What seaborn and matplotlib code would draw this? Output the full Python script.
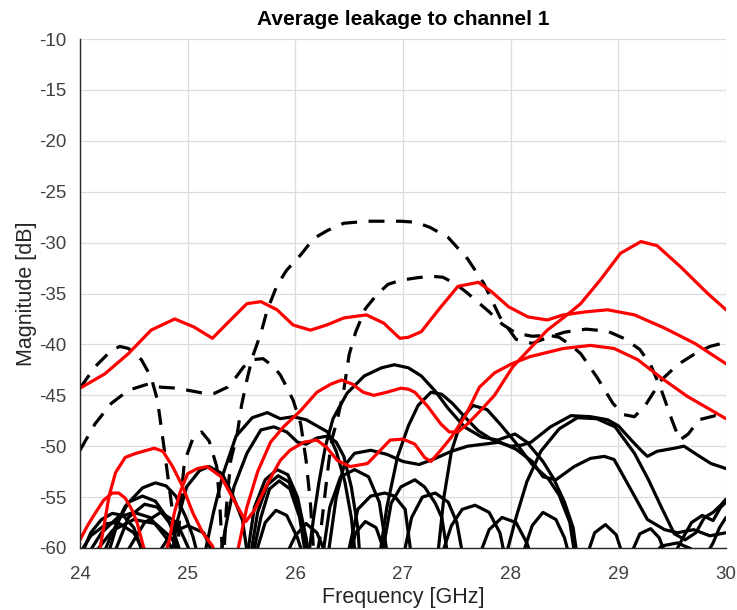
import matplotlib
matplotlib.use("Agg")
import matplotlib.pyplot as plt
import seaborn as sns
import pandas as pd

# ---------------- data: (frequency GHz, magnitude dB) ----------------
TITLE = "Average leakage to channel 1"
X_LABEL = "Frequency [GHz]"
Y_LABEL = "Magnitude [dB]"
X_TICKS = [24, 25, 26, 27, 28, 29, 30]
Y_TICKS = [-60, -55, -50, -45, -40, -35, -30, -25, -20, -15, -10]

# red solid curves
RED_1 = [(24.0,-44.3),(24.23,-42.9),(24.45,-40.9),(24.66,-38.6),(24.88,-37.5),(25.06,-38.3),(25.23,-39.4),
         (25.37,-37.9),(25.55,-36.0),(25.68,-35.8),(25.83,-36.6),(25.98,-38.1),(26.14,-38.6),(26.29,-38.1),
         (26.45,-37.4),(26.66,-37.1),(26.82,-37.9),(26.97,-39.4),(27.05,-39.3),(27.17,-38.75),(27.33,-36.6),
         (27.51,-34.3),(27.7,-33.9),(27.82,-34.8),(27.98,-36.3),(28.16,-37.3),(28.34,-37.6),(28.49,-37.1),
         (28.7,-36.8),(28.9,-36.6),(29.15,-37.1),(29.43,-38.4),(29.71,-39.9),(30.0,-41.9)]
RED_2 = [(25.45,-61),(25.55,-56),(25.65,-52.5),(25.77,-49.6),(25.89,-48.1),(26.05,-46.5),(26.2,-44.7),
         (26.33,-43.9),(26.43,-43.5),(26.53,-43.9),(26.63,-44.7),(26.73,-45.0),(26.85,-44.7),(26.98,-44.3),
         (27.05,-44.4),(27.11,-44.7),(27.23,-46.1),(27.35,-47.8),(27.43,-48.6),(27.51,-48.6),(27.6,-47.8),
         (27.72,-46.5),(27.85,-45.0),(28.02,-42.2),(28.18,-40.4),(28.34,-38.6),(28.5,-37.3),(28.65,-36.0),
         (28.83,-33.7),(29.02,-31.05),(29.21,-29.9),(29.36,-30.3),(29.58,-32.4),(29.83,-35.0),(30.0,-36.6)]
RED_3 = [(24.78,-61),(24.83,-59.2),(24.875,-56.6),(24.93,-54.5),(25.0,-52.7),(25.09,-52.2),(25.18,-52.0),
         (25.31,-53.0),(25.43,-55.3),(25.54,-57.4),(25.62,-56.3),(25.74,-53.7),(25.86,-51.4),(25.95,-50.4),
         (26.08,-49.6),(26.2,-49.4),(26.29,-50.1),(26.39,-51.4),(26.51,-52.0),(26.67,-51.7),(26.79,-50.4),
         (26.88,-49.4),(27.0,-49.3),(27.11,-49.8),(27.2,-51.1),(27.26,-51.5),(27.35,-50.4),(27.45,-49.1),
         (27.58,-47.0),(27.71,-44.2),(27.85,-42.8),(28.01,-41.9),(28.18,-41.2),(28.49,-40.4),(28.74,-40.1),
         (28.96,-40.4),(29.18,-41.5),(29.4,-43.3),(29.64,-45.1),(30.0,-47.3)]
RED_4 = [(24.0,-59.2),(24.07,-57.8),(24.14,-56.6),(24.22,-55.3),(24.3,-54.6),(24.36,-54.6),(24.42,-55.1),
         (24.48,-56.2),(24.53,-57.5),(24.58,-59.5),(24.62,-61)]
RED_5 = [(24.17,-61),(24.22,-58),(24.27,-54.9),(24.33,-52.6),(24.42,-51.1),(24.52,-50.7),(24.62,-50.4),
         (24.69,-50.2),(24.77,-50.5),(24.86,-52.0),(24.95,-53.9),(25.05,-56.6),(25.14,-58.5),(25.23,-59.8),
         (25.27,-61)]

# black dashed curves
DASH_1 = [(24.0,-44.3),(24.14,-42.2),(24.29,-40.6),(24.37,-40.2),(24.45,-40.4),(24.57,-41.5),(24.66,-43.2),
          (24.72,-45.5),(24.78,-50.1),(24.82,-53.3),(24.86,-56.5),(24.9,-62),(24.93,-56),(24.97,-51.5),
          (25.05,-49.2),(25.13,-48.6),(25.2,-49.5),(25.27,-52),(25.3,-56),(25.33,-62),(25.36,-56),
          (25.4,-51.4),(25.46,-48.8),(25.5,-46),(25.55,-43.5),(25.6,-41.3),(25.68,-38.9),(25.74,-36.6),
          (25.83,-34.2),(25.92,-32.7),(26.05,-31.2),(26.17,-29.6),(26.3,-28.8),(26.45,-28.1),(26.67,-27.9),
          (26.98,-27.9),(27.12,-28.0),(27.25,-28.5),(27.42,-29.5),(27.6,-31.6),(27.75,-34.0),(27.9,-37.3),
          (28.05,-39.5),(28.2,-39.9),(28.35,-39.3),(28.5,-38.8),(28.7,-38.5),(28.9,-38.7),(29.05,-39.4),
          (29.2,-40.5),(29.3,-42.0),(29.4,-44.5),(29.5,-47.5),(29.57,-49.4),(29.65,-48.8),(29.75,-47.4),
          (29.9,-47.0),(30.0,-47.1)]
DASH_2 = [(24.0,-50.4),(24.14,-47.8),(24.29,-45.8),(24.45,-44.5),(24.63,-43.9),(24.75,-44.2),(24.9,-44.3),
          (25.0,-44.5),(25.15,-44.8),(25.25,-44.8),(25.37,-44.2),(25.45,-43.2),(25.52,-42.2),(25.6,-41.5),
          (25.7,-41.4),(25.8,-42.2),(25.86,-43.0),(25.92,-44.2),(25.98,-45.5),(26.05,-47.8),(26.1,-51.4),
          (26.14,-55.6),(26.18,-62),(26.23,-58.9),(26.28,-54.3),(26.31,-51.6),(26.34,-49.3),(26.39,-47.4),
          (26.45,-44.5),(26.5,-41.0),(26.56,-38.8),(26.65,-36.5),(26.75,-35.2),(26.86,-34.1),(26.98,-33.7),
          (27.1,-33.5),(27.25,-33.3),(27.37,-33.4),(27.48,-34.0),(27.58,-34.8),(27.68,-35.7),(27.8,-36.8),
          (27.92,-38.0),(28.05,-38.9),(28.2,-39.2),(28.35,-39.1),(28.45,-39.3),(28.55,-40.0),(28.65,-40.9),
          (28.8,-43.2),(28.95,-45.8),(29.05,-46.9),(29.15,-47.1),(29.25,-46.0),(29.4,-43.5),(29.55,-42.0),
          (29.7,-41.0),(29.85,-40.2),(30.0,-39.8)]

# black solid curves
BLK_L1 = [(24.0,-61),(24.1,-58.5),(24.2,-57.2),(24.3,-56.6),(24.4,-56.8),(24.5,-58),(24.6,-61)]
BLK_L2 = [(24.0,-60.5),(24.1,-58.8),(24.25,-57.6),(24.35,-57.5),(24.5,-58.5),(24.6,-60.5)]
BLK_L3 = [(24.05,-61),(24.2,-58.5),(24.35,-57),(24.5,-56.5),(24.65,-57),(24.8,-59),(24.9,-61)]
BLK_L4 = [(24.25,-61),(24.35,-57.5),(24.45,-55.5),(24.58,-54.9),(24.7,-55.4),(24.82,-57.2),(24.9,-59.5),(24.95,-61)]
BLK_L5 = [(24.2,-61),(24.3,-58.5),(24.42,-55.9),(24.58,-54.1),(24.7,-53.6),(24.8,-53.9),(24.89,-54.9),
          (24.98,-56.9),(25.05,-58.9),(25.1,-61)]
BLK_L6 = [(24.3,-61),(24.45,-57),(24.6,-55.7),(24.72,-56),(24.85,-57.8),(24.95,-61)]
BLK_L7 = [(24.1,-61),(24.3,-58.3),(24.5,-57.2),(24.7,-57.6),(24.85,-59),(24.95,-61)]
BLK_L8 = [(24.4,-61),(24.6,-57.5),(24.75,-56.5),(24.9,-57.5),(25.05,-61)]
BLK_L9 = [(24.7,-61),(24.85,-58.5),(25.0,-57.8),(25.15,-58.5),(25.25,-61)]
BLK_K5 = [(24.85,-61),(24.9,-57.5),(24.99,-54.0),(25.11,-52.4),(25.2,-52.0),(25.32,-52.7),(25.41,-54.6),
          (25.51,-57.3),(25.56,-61)]
BLK_A1 = [(25.15,-61),(25.24,-56.5),(25.33,-52.7),(25.45,-49.0),(25.6,-47.2),(25.74,-46.7),(25.86,-47.3),
          (25.98,-47.1),(26.1,-47.4),(26.2,-48.0),(26.3,-48.6),(26.38,-50.5),(26.46,-53.5),(26.52,-57),(26.56,-61)]
BLK_A2 = [(25.3,-61),(25.37,-57),(25.43,-54),(25.55,-50.7),(25.68,-48.4),(25.8,-48.1),(25.92,-48.6),
          (26.02,-49.6),(26.1,-49.8),(26.2,-49.2),(26.3,-49.0),(26.38,-49.6),(26.45,-51),(26.52,-54),
          (26.58,-58),(26.6,-61)]
BLK_C1 = [(25.55,-61),(25.62,-56),(25.72,-53.3),(25.83,-52.3),(25.93,-52.8),(26.02,-55),(26.1,-59),(26.13,-61)]
BLK_C2 = [(25.58,-61),(25.65,-56.5),(25.74,-53.8),(25.84,-52.9),(25.94,-53.5),(26.03,-56),(26.1,-60),(26.12,-61)]
BLK_C3 = [(25.6,-61),(25.68,-57),(25.76,-54.2),(25.85,-53.4),(25.95,-54.2),(26.04,-57),(26.1,-61)]
BLK_C4 = [(25.62,-61),(25.72,-57.5),(25.82,-56.3),(25.92,-56.8),(26.02,-59),(26.08,-61)]
BLK_M1 = [(25.9,-61),(26.0,-58.8),(26.1,-57.6),(26.2,-58.5),(26.3,-61)]
BLK_TA = [(26.12,-61),(26.17,-57),(26.22,-53.5),(26.28,-50),(26.35,-47.3),(26.48,-44.8),(26.64,-43.1),
          (26.8,-42.3),(26.92,-42.0),(27.05,-42.3),(27.17,-43.1),(27.3,-44.6),(27.42,-46.3),(27.57,-48.1),
          (27.73,-49.1),(27.88,-49.4),(28.04,-48.8),(28.15,-49.6),(28.3,-51.5),(28.4,-53.2),(28.5,-55.5),
          (28.58,-58),(28.62,-61)]
BLK_TB = [(27.32,-61),(27.38,-55),(27.45,-50.5),(27.55,-47.2),(27.65,-46.0),(27.78,-46.4),(27.9,-47.8),
          (28.05,-49.7),(28.2,-51.8),(28.35,-53.2),(28.45,-54.8),(28.55,-57.5),(28.6,-61)]
BLK_TC = [(26.78,-61),(26.85,-56),(26.95,-51),(27.05,-48),(27.14,-46.0),(27.26,-44.7),(27.36,-44.9),
          (27.46,-45.8),(27.58,-47.2),(27.7,-48.5),(27.85,-49.5),(28.0,-50.0),(28.1,-49.9),(28.19,-49.6),
          (28.37,-48.1),(28.56,-47.0),(28.74,-47.1),(28.9,-47.4),(29.0,-48.0),(29.12,-49.4),(29.21,-50.4),
          (29.27,-51.0),(29.36,-50.5),(29.52,-50.2),(29.61,-50.0),(29.74,-50.9),(29.86,-51.7),(30.0,-52.2)]
BLK_TE = [(27.95,-61),(28.05,-57),(28.15,-53.5),(28.28,-50.5),(28.45,-48.3),(28.62,-47.2),(28.8,-47.3),
          (28.97,-48.1),(29.15,-50.7),(29.28,-53.3),(29.4,-56.0),(29.52,-58.6),(29.62,-59.2),(29.72,-58.5),
          (29.8,-57),(29.88,-56.5),(29.95,-55.8),(30.0,-55.2)]
BLK_TG = [(26.3,-61),(26.38,-55),(26.45,-52),(26.55,-50.7),(26.7,-50.4),(26.85,-50.8),(27.0,-51.5),
          (27.15,-51.8),(27.3,-51.2),(27.45,-50.5),(27.6,-50.0),(27.75,-49.8),(27.9,-49.6),(28.05,-50.3),
          (28.2,-51.5),(28.3,-53),(28.42,-53.3),(28.59,-52.0),(28.74,-51.2),(28.87,-51.0),(28.96,-51.3),
          (29.05,-53),(29.15,-54.9),(29.27,-57.2),(29.43,-58.2),(29.55,-58.5),(29.7,-58.2),(29.85,-58.8),(30.0,-58.5)]
BLK_U1 = [(27.0,-61),(27.08,-57),(27.18,-55),(27.3,-54.6),(27.42,-55.5),(27.5,-57.5),(27.56,-61)]
BLK_U2 = [(27.35,-61),(27.45,-57.8),(27.55,-56.2),(27.67,-55.8),(27.8,-56.5),(27.9,-58.5),(27.95,-61)]
BLK_U3 = [(27.7,-61),(27.8,-58.2),(27.92,-57),(28.05,-57.5),(28.15,-59.5),(28.2,-61)]
BLK_U4 = [(28.1,-61),(28.2,-57.8),(28.3,-56.5),(28.42,-57.2),(28.5,-59),(28.55,-61)]
BLK_U5 = [(28.7,-61),(28.78,-58.5),(28.88,-57.7),(28.98,-58.7),(29.05,-61)]
BLK_U6 = [(29.1,-61),(29.2,-58.6),(29.3,-58.1),(29.38,-59),(29.45,-61)]
BLK_U7 = [(29.5,-61),(29.6,-59),(29.68,-57.5),(29.78,-56.8),(29.88,-57.3),(29.95,-56),(30.0,-55.5)]
BLK_U8 = [(29.8,-61),(29.88,-59.5),(29.94,-58),(30.0,-57)]
BLK_U9 = [(29.3,-61),(29.4,-59.8),(29.55,-59.5),(29.7,-60.2),(29.8,-61)]
BLK_U10 = [(26.8,-61),(26.89,-55.6),(26.98,-54),(27.11,-53.3),(27.2,-54),(27.3,-55.6),(27.36,-57),(27.42,-61)]
BLK_U11 = [(26.48,-61),(26.58,-56.2),(26.7,-54.9),(26.83,-54.6),(26.92,-54.9),(27.02,-56.2),(27.08,-61)]
BLK_B1 = [(26.25,-61),(26.32,-56),(26.42,-53),(26.55,-52.3),(26.68,-53),(26.78,-55.5),(26.86,-61)]
BLK_B3 = [(26.5,-61),(26.56,-58.5),(26.65,-57.4),(26.75,-58),(26.85,-61)]

# ---------------- styling ----------------
sns.set_style("white")
plt.rcParams["font.family"] = ["Liberation Sans", "DejaVu Sans"]
plt.rcParams["axes.unicode_minus"] = False
plt.rcParams["lines.dashed_pattern"] = [5.0, 3.6]
plt.rcParams["lines.solid_capstyle"] = "round"
plt.rcParams["lines.solid_joinstyle"] = "round"
plt.rcParams["lines.dash_capstyle"] = "butt"

GRAY = "#262626"
TICK_GRAY = "#404040"
LW = 2.3

fig = plt.figure(figsize=(7.37, 6.10), dpi=100)
ax = fig.add_axes([80 / 737, 1 - 548 / 610, 646 / 737, 509 / 610])

def draw(curve, color, ls="-", z=2):
    df = pd.DataFrame(curve, columns=["f", "db"])
    sns.lineplot(data=df, x="f", y="db", ax=ax, color=color, linewidth=LW,
                 linestyle=ls, sort=False, estimator=None, legend=False, zorder=z)

black_curves = [BLK_L1, BLK_L2, BLK_L3, BLK_L4, BLK_L5, BLK_L6, BLK_L7, BLK_L8, BLK_L9, BLK_K5,
                BLK_A1, BLK_A2, BLK_C1, BLK_C2, BLK_C3, BLK_C4, BLK_M1, BLK_TA, BLK_TB, BLK_TC,
                BLK_TE, BLK_TG, BLK_U1, BLK_U2, BLK_U3, BLK_U4, BLK_U5, BLK_U6, BLK_U7, BLK_U8,
                BLK_U9, BLK_U10, BLK_U11, BLK_B1, BLK_B3]
for c in black_curves:
    draw(c, "black", "-", 2)
for c in [DASH_1, DASH_2]:
    draw(c, "black", "--", 3)
for c in [RED_1, RED_2, RED_3, RED_4, RED_5]:
    draw(c, "#ff0000", "-", 4)

ax.set_xlim(24, 30)
ax.set_ylim(-60, -10)
ax.set_xticks(X_TICKS)
ax.set_yticks(Y_TICKS)
ax.set_xticklabels([str(t) for t in X_TICKS])
ax.set_yticklabels([str(t) for t in Y_TICKS])
ax.grid(True, color="#dcdcdc", linewidth=0.9)
ax.set_axisbelow(True)
for s in ["top", "right"]:
    ax.spines[s].set_visible(False)
for s in ["left", "bottom"]:
    ax.spines[s].set_color(GRAY)
    ax.spines[s].set_linewidth(1.0)
    ax.spines[s].set_zorder(5)
ax.tick_params(axis="both", direction="in", length=4, width=0.8, color=GRAY,
               labelcolor=TICK_GRAY, labelsize=13.5)
ax.tick_params(axis="x", pad=13)
ax.tick_params(axis="y", pad=9.5)
ax.set_xlabel(X_LABEL, fontsize=15.5, color=GRAY, labelpad=3)
ax.set_ylabel(Y_LABEL, fontsize=15.5, color=GRAY, labelpad=2)
ax.set_title(TITLE, fontsize=15, fontweight="bold", color="black", pad=10)

fig.savefig("out.png", dpi=100)
